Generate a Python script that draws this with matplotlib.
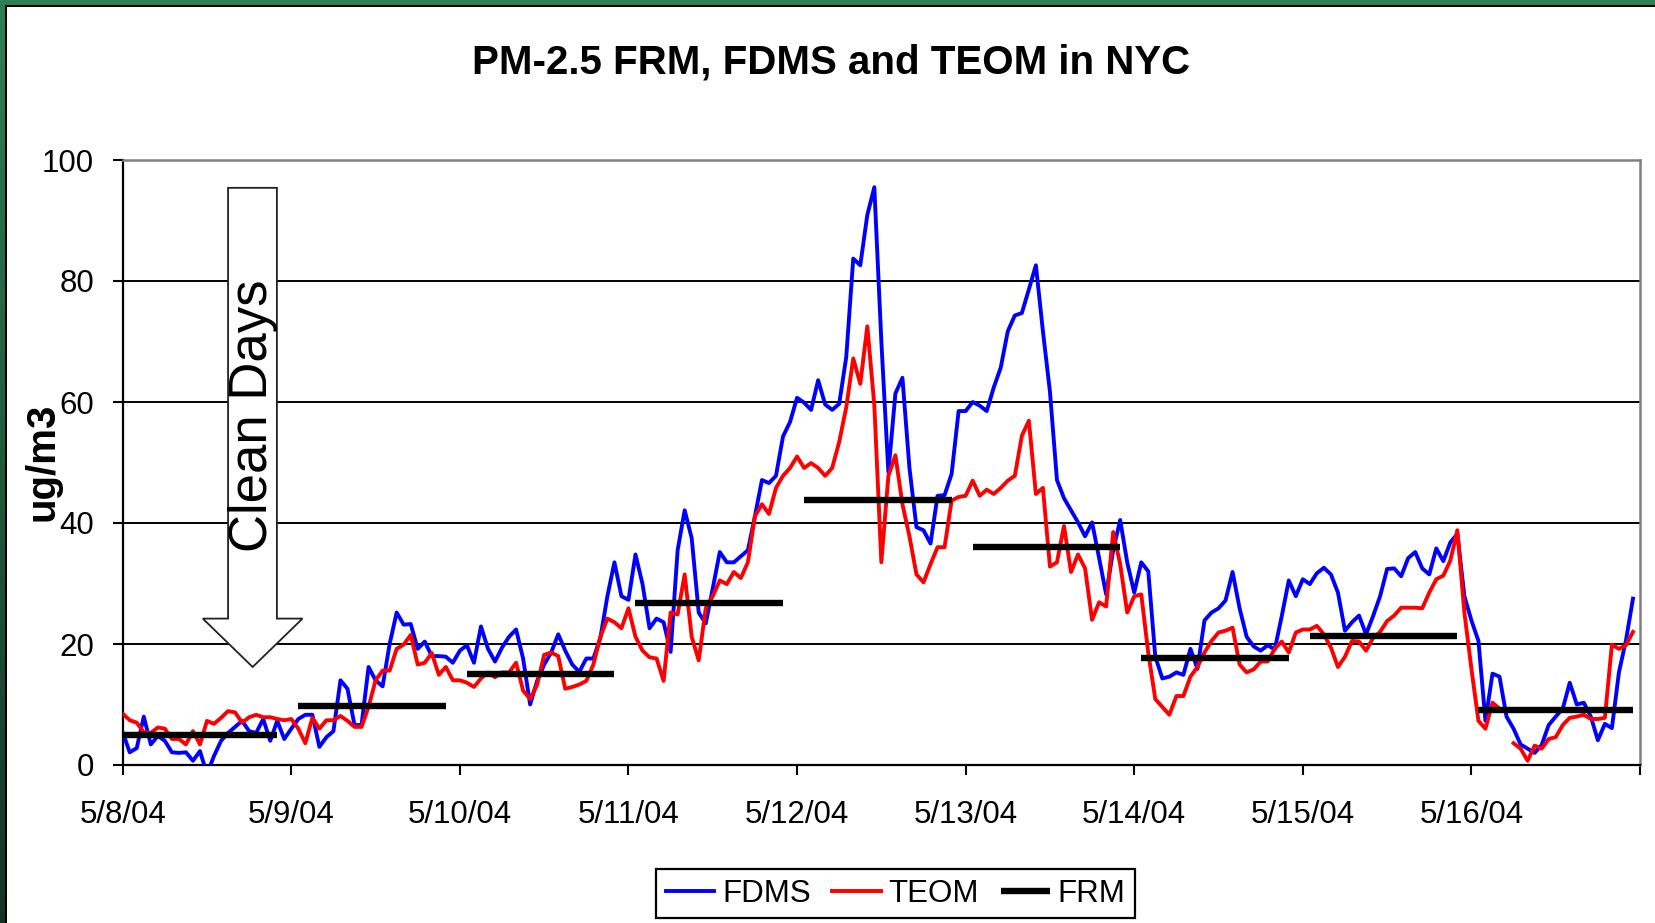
import numpy as np
import matplotlib
matplotlib.use("Agg")
import matplotlib.pyplot as plt
from matplotlib.patches import Polygon, Rectangle

plt.rcParams['font.family'] = ['Liberation Sans', 'DejaVu Sans']

# ---------------- data ----------------
title = "PM-2.5 FRM, FDMS and TEOM in NYC"
ylabel = "ug/m3"
day_labels = ["5/8/04", "5/9/04", "5/10/04", "5/11/04", "5/12/04",
              "5/13/04", "5/14/04", "5/15/04", "5/16/04", ""]
series_names = ["FDMS", "TEOM", "FRM"]
annotation_text = "Clean Days"

fdms_5_8 = [5.4, 2.1, 2.8, 8.0, 3.4, 4.8, 4.0, 2.1, 2.0, 2.1, 0.7, 2.3,
            -1.5, 1.5, 4.0, 5.3, 6.3, 7.3, 5.6, 5.3, 7.6, 4.0, 7.3, 4.3]
fdms_5_9 = [6.0, 7.6, 8.3, 8.3, 3.0, 4.6, 5.6, 14.0, 12.6, 6.6, 6.6, 16.2,
            14.0, 13.0, 20.0, 25.2, 23.2, 23.3, 19.2, 20.4, 18.0, 18.0, 17.9, 16.9]
fdms_5_10 = [18.9, 19.8, 16.9, 22.9, 19.2, 17.1, 19.4, 21.2, 22.4, 17.6, 10.0, 13.9,
             16.6, 18.6, 21.6, 18.9, 16.6, 15.4, 17.6, 17.6, 21.0, 27.9, 33.5, 27.9]
fdms_5_11 = [27.3, 34.8, 29.9, 22.6, 24.2, 23.6, 18.7, 35.5, 42.1, 37.5, 25.2, 23.4,
             29.2, 35.2, 33.5, 33.5, 34.5, 35.5, 41.1, 47.1, 46.6, 47.8, 54.3, 56.7]
fdms_5_12 = [60.7, 59.9, 58.7, 63.6, 59.6, 58.7, 59.7, 67.4, 83.7, 82.6, 90.9, 95.5,
             70.0, 48.4, 61.4, 64.0, 49.1, 39.3, 38.8, 36.6, 44.5, 44.6, 48.1, 58.5]
fdms_5_13 = [58.5, 60.0, 59.4, 58.5, 62.4, 65.7, 71.7, 74.3, 74.7, 78.6, 82.6, 71.7,
             61.7, 47.1, 44.1, 42.1, 40.1, 37.8, 40.1, 34.2, 28.2, 35.5, 40.5, 33.5]
fdms_5_14 = [28.5, 33.5, 32.0, 17.9, 14.3, 14.6, 15.3, 14.9, 19.2, 15.9, 23.9, 25.2,
             25.9, 27.2, 31.9, 25.9, 21.2, 19.6, 18.9, 19.8, 19.1, 24.6, 30.5, 27.9]
fdms_5_15 = [30.7, 29.9, 31.7, 32.6, 31.5, 28.5, 22.2, 23.6, 24.7, 21.6, 24.6, 27.9,
             32.4, 32.5, 31.2, 34.2, 35.2, 32.5, 31.5, 35.8, 33.7, 36.8, 38.2, 27.9]
fdms_5_16 = [23.9, 20.5, 7.3, 15.1, 14.6, 8.0, 6.0, 3.4, 2.7, 2.0, 3.3, 6.6,
             8.0, 9.3, 13.6, 10.0, 10.3, 8.0, 4.1, 6.8, 6.1, 15.3, 20.6, 27.5]

teom_5_8 = [8.5, 7.4, 7.0, 5.4, 5.3, 6.2, 6.0, 4.3, 4.3, 3.4, 5.6, 3.4,
            7.3, 6.8, 7.8, 8.9, 8.7, 7.0, 7.9, 8.3, 7.9, 7.9, 7.6, 7.4]
teom_5_9 = [7.6, 6.0, 3.6, 7.8, 6.0, 7.4, 7.4, 8.1, 7.3, 6.3, 6.3, 9.6,
            14.0, 15.6, 15.6, 19.2, 19.9, 21.5, 16.6, 16.9, 18.5, 14.9, 16.2, 14.0]
teom_5_10 = [14.0, 13.6, 12.9, 14.3, 15.3, 14.5, 15.3, 15.3, 16.9, 12.3, 10.9, 13.3,
             18.2, 18.6, 18.0, 12.6, 12.9, 13.3, 13.9, 16.6, 21.2, 24.2, 23.6, 22.6]
teom_5_11 = [25.9, 21.2, 18.9, 17.8, 17.6, 13.9, 25.2, 24.9, 31.5, 21.2, 17.3, 25.9,
             27.9, 30.5, 29.9, 31.9, 30.9, 33.5, 41.1, 43.1, 41.5, 45.8, 47.8, 49.1]
teom_5_12 = [51.0, 49.1, 49.9, 49.1, 47.8, 49.1, 53.4, 59.1, 67.2, 63.0, 72.5, 59.5,
             33.5, 47.8, 51.2, 43.1, 37.8, 31.5, 30.2, 33.2, 36.0, 36.0, 43.7, 44.3]
teom_5_13 = [44.5, 47.0, 44.5, 45.5, 44.8, 45.8, 47.0, 47.8, 54.4, 56.9, 44.8, 45.8,
             32.8, 33.5, 39.5, 31.9, 34.8, 32.5, 24.0, 26.9, 26.2, 38.5, 33.2, 25.2]
teom_5_14 = [27.9, 28.2, 18.5, 10.9, 9.6, 8.3, 11.4, 11.4, 14.6, 16.2, 18.6, 20.5,
             21.9, 22.2, 22.7, 16.6, 15.3, 15.8, 17.1, 17.1, 19.2, 20.4, 18.6, 21.9]
teom_5_15 = [22.4, 22.4, 23.0, 21.6, 19.4, 16.2, 17.9, 20.5, 20.4, 18.9, 21.0, 22.0,
             23.8, 24.7, 26.0, 26.0, 26.0, 25.9, 28.5, 30.7, 31.3, 33.8, 38.8, 25.2]
teom_5_16 = [15.9, 7.3, 6.0, 10.3, 9.3, np.nan, 3.6, 2.7, 0.7, 3.2, 2.7, 4.3,
             4.6, 6.6, 7.8, 8.0, 8.3, 7.6, 7.6, 7.8, 19.9, 19.2, 19.8, 22.0]

# daily 24-h FRM filter values
frm_daily = [4.9, 9.8, 15.0, 26.8, 43.8, 36.1, 17.7, 21.3, 9.1]

# ---------------- build series ----------------
fdms = np.array(fdms_5_8 + fdms_5_9 + fdms_5_10 + fdms_5_11 + fdms_5_12 +
                fdms_5_13 + fdms_5_14 + fdms_5_15 + fdms_5_16, dtype=float)
teom = np.array(teom_5_8 + teom_5_9 + teom_5_10 + teom_5_11 + teom_5_12 +
                teom_5_13 + teom_5_14 + teom_5_15 + teom_5_16, dtype=float)
n_days = len(frm_daily)
hours = np.arange(n_days * 24)
frm = np.full(n_days * 24, np.nan)
for d, v in enumerate(frm_daily):
    start = 0 if d == 0 else 1
    end = 23 if d == n_days - 1 else 22
    frm[d * 24 + start: d * 24 + end + 1] = v

# ---------------- figure ----------------
W, H = 1656, 923
fig = plt.figure(figsize=(W / 100, H / 100), dpi=100)
fig.patch.set_facecolor('white')

# slide border (green with black inner line) on top and left
grad_ax = fig.add_axes([0, 0, 4.5 / W, 1])
grad = np.linspace(0, 1, 256).reshape(-1, 1)
top_c = np.array([46, 128, 84]) / 255
bot_c = np.array([22, 52, 38]) / 255
img = (top_c[None, None, :] * (1 - grad[:, :, None]) + bot_c[None, None, :] * grad[:, :, None])
grad_ax.imshow(img, aspect='auto', extent=[0, 1, 0, 1])
grad_ax.set_axis_off()
fig.patches.append(Rectangle((0, H - 4.5), W, 4.5, transform=None,
                             facecolor='#2E8054', edgecolor='none', zorder=1))
fig.patches.append(Rectangle((4.5, 0), 2.2, H - 4.5, transform=None,
                             facecolor='black', edgecolor='none', zorder=2))
fig.patches.append(Rectangle((4.5, H - 6.7), W, 2.2, transform=None,
                             facecolor='black', edgecolor='none', zorder=2))

left, right, top, bottom = 122.7, 1640, 160, 765
ax = fig.add_axes([left / W, 1 - bottom / H, (right - left) / W, (bottom - top) / H])

l1, = ax.plot(hours, fdms, color='#0000FF', lw=2.8, label=series_names[0], zorder=3)
l2, = ax.plot(hours, teom, color='#FF0000', lw=2.8, label=series_names[1], zorder=4)
l3, = ax.plot(hours, frm, color='black', lw=4.6, solid_capstyle='butt',
              label=series_names[2], zorder=5)

ax.set_xlim(0, n_days * 24)
ax.set_ylim(0, 100)
ax.set_yticks(np.arange(0, 101, 20))
ax.set_xticks(np.arange(0, n_days * 24 + 1, 24))
ax.set_xticklabels(day_labels)

ax.set_axisbelow(True)
ax.yaxis.grid(True, color='black', lw=1.4)
ax.xaxis.grid(False)
ax.yaxis.get_gridlines()[-1].set_visible(False)

for s in ['left', 'bottom']:
    ax.spines[s].set_color('black')
    ax.spines[s].set_linewidth(1.6)
for s in ['top', 'right']:
    ax.spines[s].set_color('#808080')
    ax.spines[s].set_linewidth(1.8)

ax.tick_params(axis='both', direction='out', length=7.5, width=1.5, color='black',
               labelsize=22.5, labelcolor='black')
ax.tick_params(axis='y', pad=13)
ax.tick_params(axis='x', pad=18)

# Clean Days arrow (annotation drawn in data space)
arrow = Polygon([(15.0, 95.4), (21.95, 95.4), (21.95, 24.2), (25.6, 24.2),
                 (18.5, 16.2), (11.4, 24.2), (15.0, 24.2)], closed=True,
                facecolor='white', edgecolor='#222222', lw=1.3, zorder=2)
ax.add_patch(arrow)
ax.text(18.6, 57.8, annotation_text, rotation=90, ha='center', va='center',
        fontsize=38, color='black', zorder=2.5)

fig.text(831 / W, 1 - 62 / H, title, ha='center', va='center',
         fontsize=29, fontweight='bold')
fig.text(43 / W, 1 - 462 / H, ylabel, rotation=90, ha='center', va='center',
         fontsize=29, fontweight='bold')

leg = fig.legend(handles=[l1, l2, l3], loc='center',
                 bbox_to_anchor=(895.5 / W, 1 - 893.5 / H), ncol=3,
                 fontsize=22.5, frameon=True, fancybox=False, framealpha=1,
                 edgecolor='black', handlelength=1.55, handletextpad=0.25,
                 columnspacing=0.7, borderpad=0.3, borderaxespad=0)
leg.get_frame().set_linewidth(1.6)

fig.savefig('out.png', dpi=100, facecolor='white')
